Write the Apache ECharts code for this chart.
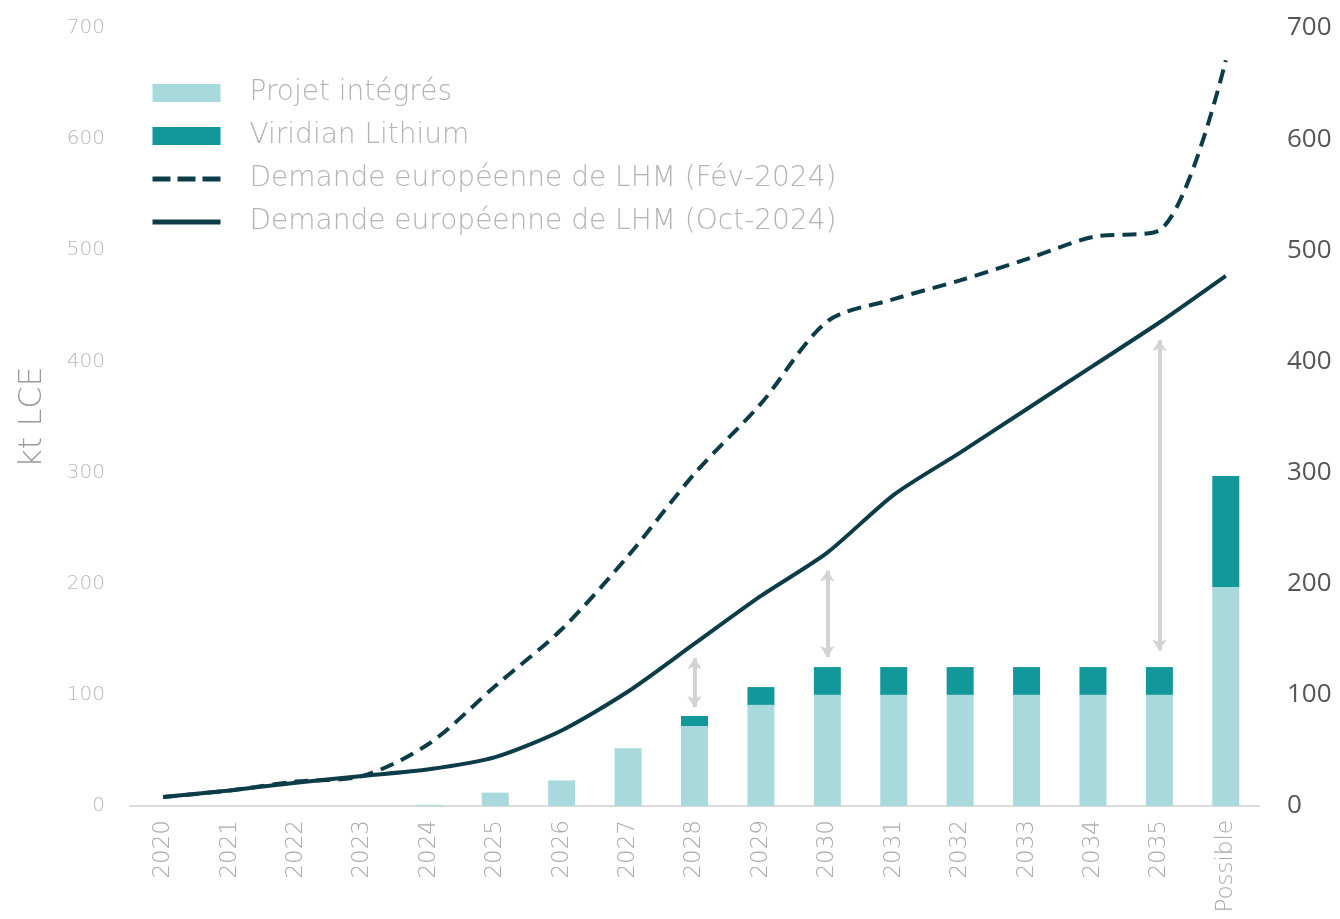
<!DOCTYPE html>
<html>
<head>
<meta charset="utf-8">
<script src="https://cdn.jsdelivr.net/npm/echarts@6/dist/echarts.min.js"></script>
<style>
  html, body { margin: 0; padding: 0; background: #fff; }
  #chart { width: 1340px; height: 919px; }
</style>
</head>
<body>
<div id="chart"></div>
<script>
// categories (x axis)
const years = ['2020', '2021', '2022', '2023', '2024', '2025', '2026', '2027', '2028',
  '2029', '2030', '2031', '2032', '2033', '2034', '2035', 'Possible']

// stacked bars, kt LCE
const projetIntegres = [0, 0, 0, 0, 1, 12, 23, 52, 72, 91, 100, 100, 100, 100, 100, 100, 197]
const viridian = [0, 0, 0, 0, 0, 0, 0, 0, 9, 16, 25, 25, 25, 25, 25, 25, 100]

// demand curves
const demandeFev = [8, 14, 22, 27, 56, 108, 159, 225, 299, 362, 436, 456, 473, 492, 512, 518, 671]
const demandeOct = [8, 14, 21, 27, 33, 44, 68, 103, 146, 189, 228, 280, 318, 357, 396, 435, 477]

// grey gap arrows (bar top -> demand)
const arrowYears = ['2028', '2030', '2035']
const arrowLow = [89, 134, 140]
const arrowHigh = [133, 212, 419]

const FONT = 'DejaVu Sans'
const LIGHT = '#a8dadd'
const TEAL = '#12979b'
const DARK = '#0c3c48'

const NAME_FEV = 'Demande européenne de LHM (Fév-2024)'
const NAME_OCT = 'Demande européenne de LHM (Oct-2024)'

const chart = echarts.init(document.getElementById('chart'))

const arrowData = arrowYears.map((y, i) => [
  { coord: [y, arrowLow[i]] },
  { coord: [y, arrowHigh[i]] },
])

chart.setOption({
  animation: false,
  grid: { left: 130, right: 81, top: 28, bottom: 113 },
  legend: {
    orient: 'vertical',
    left: 145,
    top: 73,
    itemWidth: 68,
    itemHeight: 18,
    itemGap: 13,
    textStyle: { fontFamily: FONT, fontSize: 28, fontWeight: 200, color: '#b3b3b3', padding: [0, 0, 0, 24], lineHeight: 30 },
    data: [
      { name: 'Projet intégrés', icon: 'rect' },
      { name: 'Viridian Lithium', icon: 'rect' },
      { name: NAME_FEV, itemStyle: { opacity: 0 }, lineStyle: { width: 5, type: [18, 7] } },
      { name: NAME_OCT, itemStyle: { opacity: 0 }, lineStyle: { width: 5 } },
    ],
  },
  xAxis: {
    type: 'category',
    data: years,
    axisLine: { lineStyle: { color: '#dcdcdc', width: 2 } },
    axisTick: { show: false },
    axisLabel: { rotate: 90, margin: 14, fontFamily: FONT, fontSize: 23, fontWeight: 200, color: '#a9a9a9', interval: 0 },
  },
  yAxis: [
    {
      type: 'value', min: 0, max: 700, interval: 100,
      name: 'kt LCE', nameLocation: 'middle', nameGap: 81,
      nameTextStyle: { fontFamily: FONT, fontSize: 32, fontWeight: 200, color: '#9a9a9a' },
      axisLine: { show: false }, axisTick: { show: false }, splitLine: { show: false },
      axisLabel: { margin: 25, fontFamily: FONT, fontSize: 20, fontWeight: 200, color: '#b8b8b8' },
    },
    {
      type: 'value', min: 0, max: 700, interval: 100, position: 'right',
      axisLine: { show: false }, axisTick: { show: false }, splitLine: { show: false },
      axisLabel: { margin: 28, fontFamily: 'Open Sans', fontSize: 26, color: '#555' },
    },
  ],
  series: [
    {
      name: 'Projet intégrés', type: 'bar', stack: 'prod', barWidth: 27,
      itemStyle: { color: LIGHT }, data: projetIntegres,
    },
    {
      name: 'Viridian Lithium', type: 'bar', stack: 'prod', barWidth: 27,
      itemStyle: { color: TEAL }, data: viridian,
    },
    {
      name: NAME_FEV, type: 'line', data: demandeFev,
      smooth: 0.3, symbol: 'none', itemStyle: { color: DARK },
      lineStyle: { color: DARK, width: 4, type: [14, 8] },
    },
    {
      name: NAME_OCT, type: 'line', data: demandeOct,
      smooth: 0.25, symbol: 'none', itemStyle: { color: DARK },
      lineStyle: { color: DARK, width: 4 },
      markLine: {
        silent: true,
        symbol: ['arrow', 'arrow'],
        symbolSize: [11, 11],
        label: { show: false },
        lineStyle: { color: '#d3d3d3', width: 4, type: 'solid' },
        data: arrowData,
      },
    },
  ],
})
</script>
</body>
</html>
